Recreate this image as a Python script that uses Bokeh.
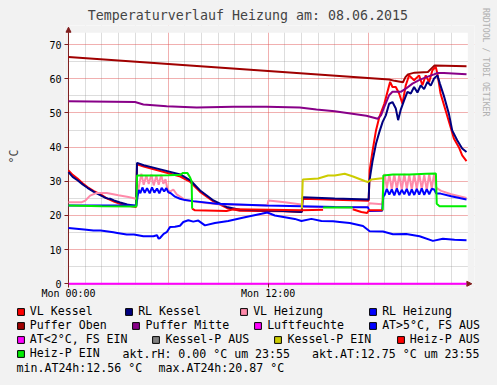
from bokeh.plotting import figure
from bokeh.layouts import column
from bokeh.models import (Range1d, FixedTicker, Legend, LegendItem, Label, Title,
                          Arrow, NormalHead, BoxAnnotation, GlobalInlineStyleSheet)
from bokeh.embed import file_html
from bokeh.resources import INLINE

NAN = float("nan")

# ---------------- texts ----------------
title_text = "Temperaturverlauf Heizung am: 08.06.2015"
y_label = "°C"
x_tick_hours = [0, 12]
x_tick_labels = ["Mon 00:00", "Mon 12:00"]
y_ticks = [0, 10, 20, 30, 40, 50, 60, 70]
watermark = "RRDTOOL / TOBI OETIKER"

# ---------------- data (hours since Mon 00:00, °C) ----------------
vl_kessel_h = [0, 0.25, 0.54, 0.85, 1.14, 1.5, 1.93, 2.3, 2.73, 3.1,
               3.53, 4.06, 4.12, 4.52, 5.52, 6.72, 7.32, 7.91, 8.71, 9.51,
               10.3, 11.5, 12.9, 14.02, 14.07, 16.0, 18.04, 18.1, 18.28, 18.48,
               18.68, 18.98, 19.17, 19.33, 19.47, 19.67, 19.87, 20.07, 20.27, 20.47,
               20.77, 21.07, 21.27, 21.47, 21.67, 21.87, 22.07, 22.17, 22.36, 22.66,
               22.96, 23.16, 23.46, 23.66, 23.92]
vl_kessel = [33.2, 31.9, 30.8, 29.4, 28.3, 27.2, 26.2, 25.0, 24.1, 23.4,
             22.9, 22.5, 35.0, 34.3, 33.0, 31.4, 29.8, 26.9, 24.1, 22.2,
             21.4, 21.3, 21.2, 21.0, 24.9, 24.6, 24.3, 33.2, 39.1, 44.9,
             48.8, 52.7, 56.2, 59.1, 57.6, 57.6, 55.7, 52.7, 58.1, 61.0,
             59.6, 61.0, 58.1, 61.0, 59.0, 62.5, 63.5, 61.5, 55.7, 50.8,
             45.9, 42.5, 40.0, 37.6, 35.9]

rl_kessel_h = [0, 0.25, 0.54, 0.85, 1.14, 1.5, 1.93, 2.2, 2.35, 2.5,
               2.73, 3.1, 3.53, 4.06, 4.12, 4.52, 5.52, 6.72, 7.32, 7.91,
               8.71, 9.51, 10.3, 11.5, 12.9, 14.02, 14.07, 16.0, 18.04, 18.08,
               18.28, 18.48, 18.68, 18.88, 19.07, 19.27, 19.47, 19.67, 19.81, 19.97,
               20.17, 20.37, 20.57, 20.77, 20.97, 21.17, 21.37, 21.57, 21.77, 21.97,
               22.17, 22.32, 22.56, 22.86, 23.06, 23.36, 23.66, 23.92]
rl_kessel = [32.7, 31.3, 30.3, 29.1, 28.1, 27.0, 25.9, 25.2, 25.0, 24.9,
             24.4, 23.8, 23.2, 22.8, 35.4, 34.7, 33.5, 32.0, 30.3, 27.3,
             24.4, 22.5, 21.7, 21.5, 21.3, 21.0, 25.3, 25.0, 24.7, 30.0,
             36.1, 41.0, 44.4, 47.4, 49.3, 52.7, 53.2, 51.3, 47.9, 51.0,
             53.7, 56.2, 55.7, 57.6, 56.0, 58.1, 57.0, 59.1, 58.0, 60.1,
             61.0, 58.6, 55.0, 49.8, 44.9, 42.0, 39.6, 38.6]

vl_heizung_h = [0, 0.8, 1.0, 1.3, 1.7, 2.3, 3.0, 3.6, 4.06, 4.12,
                4.25, 4.38, 4.52, 4.68, 4.82, 4.98, 5.12, 5.28, 5.42, 5.57,
                5.7, 5.83, 5.95, 6.1, 6.3, 6.5, 7.0, 7.5, 9.0, 11.95,
                12.02, 13.0, 14.0, 14.05, 18.0, 18.06, 18.85, 18.92, 19.0, 19.13,
                19.28, 19.43, 19.58, 19.73, 19.88, 20.03, 20.18, 20.33, 20.48, 20.63,
                20.78, 20.93, 21.08, 21.23, 21.38, 21.53, 21.68, 21.83, 21.98, 22.08,
                22.15, 22.4, 23.0, 23.92]
vl_heizung = [23.9, 23.9, 24.3, 25.8, 26.6, 26.6, 25.9, 25.4, 24.9, 25.5,
              29.0, 32.2, 29.0, 31.8, 29.2, 32.0, 28.8, 31.6, 29.0, 31.9,
              29.3, 30.6, 27.6, 27.0, 27.6, 26.2, 24.6, 24.1, 23.3, 22.9,
              24.4, 23.9, 23.2, 22.5, 22.4, 23.6, 23.3, 29.0, 32.2, 28.0,
              32.0, 27.6, 32.1, 27.8, 31.8, 27.5, 32.2, 27.9, 31.9, 27.6,
              32.0, 27.8, 32.2, 27.7, 31.8, 27.5, 32.1, 27.9, 32.3, 28.5,
              27.9, 27.2, 26.2, 25.1]

rl_heizung_h = [0, 2.0, 4.08, 4.15, 4.22, 4.32, 4.44, 4.58, 4.72, 4.88,
                5.02, 5.16, 5.32, 5.46, 5.6, 5.75, 5.88, 6.0, 6.15, 6.4,
                6.7, 7.0, 7.5, 8.9, 11.9, 14.0, 16.0, 18.0, 18.08, 18.85,
                18.92, 19.0, 19.13, 19.28, 19.43, 19.58, 19.73, 19.88, 20.03, 20.18,
                20.33, 20.48, 20.63, 20.78, 20.93, 21.08, 21.23, 21.38, 21.53, 21.68,
                21.83, 21.98, 22.1, 22.36, 23.0, 23.92]
rl_heizung = [22.9, 22.9, 22.9, 25.5, 27.5, 26.5, 28.2, 26.6, 28.0, 26.5,
              28.2, 26.7, 27.9, 26.5, 28.1, 27.0, 28.0, 26.8, 26.5, 25.5,
              24.9, 24.5, 24.2, 23.4, 22.9, 22.7, 22.5, 22.4, 21.3, 21.4,
              25.5, 26.0, 27.8, 26.1, 27.6, 25.9, 27.9, 26.0, 27.5, 26.2,
              27.8, 25.9, 27.6, 26.0, 27.8, 26.1, 27.9, 26.0, 27.7, 26.2,
              27.8, 27.6, 26.4, 26.4, 25.6, 24.7]

puffer_oben_h = [0, 12.0, 19.27, 19.6, 20.1, 20.25, 20.4, 20.8, 21.6, 21.85, 22.0, 23.92]
puffer_oben = [66.4, 62.3, 59.8, 59.4, 59.0, 60.5, 61.3, 61.8, 62.0, 63.2, 63.9, 63.7]

puffer_mitte_h = [0, 4.0, 4.5, 5.9, 7.7, 9.9, 11.9, 13.9, 14.9, 16.0,
                  17.9, 18.58, 18.78, 18.98, 19.27, 19.47, 19.97, 20.27, 20.67, 21.07,
                  21.47, 21.97, 22.17, 22.56, 23.92]
puffer_mitte = [53.4, 53.2, 52.5, 52.0, 51.6, 51.8, 51.8, 51.6, 51.0, 50.5,
                49.2, 48.3, 49.3, 51.8, 55.2, 56.2, 56.2, 57.1, 58.6, 59.6,
                60.4, 61.3, 61.7, 61.7, 61.3]

luftfeuchte_h = [0, 23.92]
luftfeuchte = [0.0, 0.0]

aussen_h = [0, 0.94, 1.5, 1.93, 2.7, 2.93, 3.5, 3.93, 4.5, 5.1,
            5.32, 5.42, 5.5, 5.72, 5.9, 6.1, 6.4, 6.7, 6.9, 7.2,
            7.5, 7.8, 8.2, 8.8, 9.6, 10.6, 11.6, 11.95, 12.4, 13.0,
            13.6, 14.0, 14.6, 15.2, 15.9, 16.3, 16.9, 17.7, 18.1, 18.9,
            19.5, 20.3, 21.1, 21.9, 22.5, 23.2, 23.92]
aussen = [16.3, 15.9, 15.6, 15.6, 15.1, 14.9, 14.4, 14.4, 13.9, 13.9,
          14.2, 13.2, 13.4, 14.6, 15.1, 16.6, 16.7, 17.0, 18.1, 18.6,
          18.2, 18.5, 17.1, 17.8, 18.4, 19.5, 20.5, 20.87, 20.0, 19.5,
          19.0, 18.4, 19.0, 18.4, 18.3, 18.1, 17.8, 16.9, 15.4, 15.3,
          14.5, 14.6, 13.9, 12.56, 13.2, 12.9, 12.75]

kessel_p_ein_h = [14.02, 14.08, 15.0, 15.6, 16.0, 16.6, 17.1, 17.8, 18.0, 18.2, 18.7, 18.88]
kessel_p_ein = [22.0, 30.5, 30.8, 31.7, 31.7, 32.2, 31.4, 30.1, 29.8, 30.5, 30.8, 30.9]

heiz_p_aus_h = [7.43, 7.6, 9.5, 9.9, 12.0, 14.0, 15.3, NAN, 17.08, 17.6, 17.95, 18.05, 18.88]
heiz_p_aus = [22.0, 21.5, 21.3, 21.8, 21.7, 21.5, 21.7, NAN, 21.8, 21.0, 20.7, 21.5, 21.5]

heiz_p_ein_h = [0, 2.0, 4.08, 4.12, 5.0, 6.0, 6.75, 6.85, 7.15, 7.3, 7.4, 7.43, NAN,
                15.3, 17.08, NAN,
                18.88, 18.92, 19.5, 20.5, 21.5, 22.08, 22.13, 22.3, 23.92]
heiz_p_ein = [22.9, 22.7, 22.6, 31.7, 31.7, 31.8, 31.9, 32.4, 32.4, 31.2, 30.0, 22.0, NAN,
              22.3, 22.3, NAN,
              21.5, 31.7, 32.0, 32.0, 32.2, 32.3, 23.4, 22.7, 22.7]

legend_names = ["VL Kessel", "RL Kessel", "VL Heizung", "RL Heizung",
                "Puffer Oben", "Puffer Mitte", "Luftfeuchte", "AT>5°C, FS AUS",
                "AT<2°C, FS EIN", "Kessel-P AUS", "Kessel-P EIN", "Heiz-P AUS",
                "Heiz-P EIN"]
legend_colors = ["#ff0000", "#000080", "#ff8aaa", "#0000ff",
                 "#a00000", "#880088", "#ff00ff", "#0000ff",
                 "#ff00ff", "#808080", "#cccc00", "#ff0000",
                 "#00ee00"]

info_texts = ["akt.rH: 0.00 °C um 23:55", "akt.AT:12.75 °C um 23:55",
              "min.AT24h:12.56 °C", "max.AT24h:20.87 °C"]

# ---------------- layout (page pixels) ----------------
MONO = "DejaVu Sans Mono"
AXC = "#801f1f"
BG = "#f2f2f2"
W = 497
H_MAIN, H_LEG = 304, 81
FL, FR, FT = 64, 21, 25
FRAME_H = 262
FB = H_MAIN - FT - FRAME_H

legend_swatch_left = [16.7, 125, 240, 369,
                      16.7, 132.3, 254, 369,
                      16.7, 152.3, 274.3, 396.7,
                      16.7]
legend_row = [0, 0, 0, 0, 1, 1, 1, 1, 2, 2, 2, 2, 3]
row_y_page = [311, 325, 339, 353, 367]
info_x_page = [122, 311.5, 16, 158]
info_row = [3, 3, 4, 4]
GLY = 17
PAGE_H = H_MAIN + H_LEG

# ---------------- main chart ----------------
p = figure(width=W, height=H_MAIN, x_range=Range1d(-0.24, 24.4), y_range=Range1d(-1.08, 75.6),
           output_backend="svg", toolbar_location=None, frame_align=False,
           min_border_left=FL, min_border_right=FR, min_border_top=FT, min_border_bottom=FB,
           background_fill_color="white", border_fill_color=BG, outline_line_color=None)
p.stylesheets = [GlobalInlineStyleSheet(css="html, body { background-color: #f2f2f2; }")]

p.title.text = title_text
p.title.text_font = MONO
p.title.text_font_size = "13.3px"
p.title.text_font_style = "normal"
p.title.align = "left"
p.title.offset = 23.3
p.title.vertical_align = "top"
p.title.standoff = 2

for ax in (p.xaxis[0], p.yaxis[0]):
    ax.axis_line_color = None
    ax.major_tick_line_color = AXC
    ax.minor_tick_line_color = None
    ax.major_tick_in = 4
    ax.major_tick_out = 0
    ax.major_label_text_font = MONO
    ax.major_label_text_font_size = "10px"
    ax.major_label_text_color = "black"

p.yaxis.ticker = FixedTicker(ticks=y_ticks)
p.yaxis.major_label_standoff = 3
p.yaxis.axis_label = y_label
p.yaxis.axis_label_text_font = MONO
p.yaxis.axis_label_text_font_size = "11.6px"
p.yaxis.axis_label_text_font_style = "normal"
p.yaxis.axis_label_standoff = 25

p.xaxis.ticker = FixedTicker(ticks=x_tick_hours)
p.xaxis.major_label_overrides = {h: lab for h, lab in zip(x_tick_hours, x_tick_labels)}
p.xaxis.major_label_standoff = 0

p.xgrid.ticker = FixedTicker(ticks=[0, 6, 12, 18],
                             minor_ticks=[h for h in range(1, 24) if h % 6])
p.ygrid.ticker = FixedTicker(ticks=y_ticks, minor_ticks=[t + 5 for t in y_ticks[:-1]])
for g in (p.xgrid[0], p.ygrid[0]):
    g.grid_line_color = "#e05050"
    g.grid_line_alpha = 0.45
    g.minor_grid_line_color = "#909090"
    g.minor_grid_line_alpha = 0.3

# grey canvas outside the 24 h x 73.5 °C plotting area
for kw in (dict(bottom=73.5), dict(left=24.0), dict(right=0), dict(top=-0.2)):
    p.add_layout(BoxAnnotation(fill_color=BG, fill_alpha=1, line_color=None,
                               level="underlay", **kw))

# axis lines with arrow heads (RRDtool style)
p.add_layout(Arrow(x_start=0, y_start=0, x_end=0, y_end=75.1, line_color=AXC, line_width=1,
                   level="underlay",
                   end=NormalHead(size=5, fill_color=AXC, line_color=AXC, line_width=1)))
p.add_layout(Arrow(x_start=0, y_start=0, x_end=24.24, y_end=0, line_color=AXC, line_width=1,
                   level="underlay",
                   end=NormalHead(size=5, fill_color=AXC, line_color=AXC, line_width=1)))

series = [
    (vl_kessel_h, vl_kessel, legend_colors[0]),
    (rl_kessel_h, rl_kessel, legend_colors[1]),
    (vl_heizung_h, vl_heizung, legend_colors[2]),
    (rl_heizung_h, rl_heizung, legend_colors[3]),
    (puffer_oben_h, puffer_oben, legend_colors[4]),
    (puffer_mitte_h, puffer_mitte, legend_colors[5]),
    (luftfeuchte_h, luftfeuchte, legend_colors[6]),
    (aussen_h, aussen, legend_colors[7]),
    (kessel_p_ein_h, kessel_p_ein, legend_colors[10]),
    (heiz_p_aus_h, heiz_p_aus, legend_colors[11]),
    (heiz_p_ein_h, heiz_p_ein, legend_colors[12]),
]
for hh, vv, col in series:
    p.line(hh, vv, line_color=col, line_width=2)

p.add_layout(Title(text=watermark, align="left", offset=-17.5, vertical_align="middle",
                   standoff=11, text_font=MONO, text_font_size="8.2px",
                   text_font_style="normal", text_color="#b0b0b0"), "right")

# ---------------- legend block ----------------
lg = figure(width=W, height=H_LEG, x_range=Range1d(0, W), y_range=Range1d(0, H_LEG),
            output_backend="svg", toolbar_location=None, x_axis_type=None, y_axis_type=None,
            frame_align=False,
            min_border_left=0, min_border_right=0, min_border_top=0, min_border_bottom=0,
            background_fill_color=BG, border_fill_color=BG, outline_line_color=None)

for name, col, xl, row in zip(legend_names, legend_colors, legend_swatch_left, legend_row):
    # invisible one-point renderer that only provides the square legend swatch
    sw = lg.scatter(x=[0], y=[0], marker="square", fill_color=col,
                    line_color="black", line_width=1, visible=False)
    cx = xl + 3.65
    cy = PAGE_H - row_y_page[row]
    leg = Legend(items=[LegendItem(label=name, renderers=[sw])],
                 location=(cx - GLY / 2, cy - GLY / 2),
                 orientation="horizontal", padding=0, margin=0, spacing=0,
                 border_line_color=None, background_fill_alpha=0,
                 glyph_width=GLY, glyph_height=GLY, label_height=GLY, label_standoff=1,
                 label_text_font=MONO, label_text_font_size="11.6px",
                 label_text_color="black", click_policy="none")
    lg.add_layout(leg)

for txt, xp, row in zip(info_texts, info_x_page, info_row):
    lg.add_layout(Label(x=xp, y=PAGE_H - row_y_page[row], x_units="screen", y_units="screen",
                        text=txt, text_font=MONO, text_font_size="11.6px",
                        text_color="black", text_baseline="middle", text_align="left"))

layout = column(p, lg, spacing=0)
open("out.html", "w").write(file_html(layout, INLINE))
